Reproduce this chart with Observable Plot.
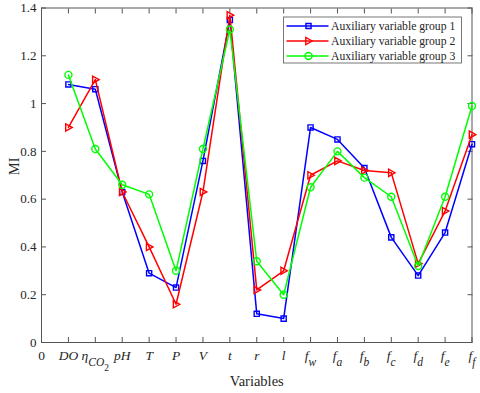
<!DOCTYPE html>
<html><head><meta charset="utf-8">
<script src="https://cdn.jsdelivr.net/npm/d3@7"></script>
<script src="https://cdn.jsdelivr.net/npm/@observablehq/plot@0.6"></script>
<style>
body{margin:0;background:#fff}
svg, svg text{font-family:"Liberation Serif","Times New Roman",serif !important}
</style>
</head><body><div id="chart"></div>
<script>
// ---- data ----
const variables = ["DO","ηCO2","pH","T","P","V","t","r","l","fw","fa","fb","fc","fd","fe","ff"];
const group1 = [1.08,1.06,0.63,0.29,0.23,0.76,1.35,0.12,0.10,0.90,0.85,0.73,0.44,0.28,0.46,0.83];
const group2 = [0.90,1.10,0.63,0.40,0.16,0.63,1.37,0.22,0.30,0.70,0.76,0.72,0.71,0.33,0.55,0.87];
const group3 = [1.12,0.81,0.66,0.62,0.30,0.81,1.31,0.34,0.20,0.65,0.80,0.69,0.61,0.32,0.61,0.99];
const seriesNames = ["Auxiliary variable group 1","Auxiliary variable group 2","Auxiliary variable group 3"];
const seriesColors = ["#0000ff","#ff0000","#00ff00"];
const yTicks = [0,0.2,0.4,0.6,0.8,1,1.2,1.4];
const xTicks = d3.range(0,17);
// tick label parts: [text, style] style: n normal, i italic, s subscript, si italic subscript, ss sub-subscript
const xTickLabels = [
  [["0","n"]],
  [["DO","i"]],
  [["η","i"],["CO","si"],["2","ss"]],
  [["pH","i"]],
  [["T","i"]],
  [["P","i"]],
  [["V","i"]],
  [["t","i"]],
  [["r","i"]],
  [["l","i"]],
  [["f","i"],["w","si"]],
  [["f","i"],["a","si"]],
  [["f","i"],["b","si"]],
  [["f","i"],["c","si"]],
  [["f","i"],["d","si"]],
  [["f","i"],["e","si"]],
  [["f","i"],["f","si"]]
];

// ---- table ----
const groups = [group1, group2, group3];
const table = [];
groups.forEach((g, k) => g.forEach((v, i) => table.push({x: i + 1, v, name: seriesNames[k], variable: variables[i]})));

const triRight = {
  draw(ctx, size) {
    const r = Math.sqrt(size / Math.PI);
    ctx.moveTo(r * 1.05, 0);
    ctx.lineTo(-r * 0.75, -r * 1.0);
    ctx.lineTo(-r * 0.75, r * 1.0);
    ctx.closePath();
  }
};
const symbols = ["square", triRight, "circle"];
const radii = [2.9, 3.6, 3.5];

const ink = "#262626";
const frameInk = "#555555";
const fmtY = d => String(+d.toFixed(1));

const marks = [];
// axes: labels
marks.push(Plot.axisY({ticks: yTicks, tickSize: 0, tickPadding: 5, tickFormat: fmtY, label: null, fontSize: 13, fill: ink}));
marks.push(Plot.axisX({ticks: xTicks, tickSize: 0, tickPadding: 8, tickFormat: i => String(i), label: null, fontSize: 13.5, fill: ink}));
// inward ticks on all four sides
marks.push(Plot.axisY({anchor: "left", ticks: yTicks, tickSize: -5, fill: "none", label: null, stroke: frameInk}));
marks.push(Plot.axisY({anchor: "right", ticks: yTicks, tickSize: -5, fill: "none", label: null, stroke: frameInk}));
marks.push(Plot.axisX({anchor: "bottom", ticks: xTicks, tickSize: -5, fill: "none", label: null, stroke: frameInk}));
marks.push(Plot.axisX({anchor: "top", ticks: xTicks, tickSize: -5, fill: "none", label: null, stroke: frameInk}));
marks.push(Plot.frame({stroke: frameInk, strokeWidth: 1}));
// series
seriesNames.forEach((name, k) => {
  const d = table.filter(r => r.name === name);
  marks.push(Plot.line(d, {x: "x", y: "v", stroke: seriesColors[k], strokeWidth: 1.5}));
  marks.push(Plot.dot(d, {x: "x", y: "v", stroke: seriesColors[k], symbol: () => symbols[k], r: radii[k], fill: "none", strokeWidth: 1.4}));
});
// axis titles
marks.push(Plot.text(["Variables"], {text: d => d, frameAnchor: "bottom", dy: 43, fontSize: 14.5, fill: ink}));
marks.push(Plot.text(["MI"], {text: d => d, frameAnchor: "left", dx: -27, rotate: -90, fontSize: 14.5, fill: ink}));

const svgEl = Plot.plot({
  width: 480, height: 393,
  marginLeft: 41, marginRight: 8.5, marginTop: 7.5, marginBottom: 51,
  x: {type: "linear", domain: [0, 16]},
  y: {domain: [0, 1.4]},
  symbol: {type: "identity"},
  style: {background: "#fff"},
  marks
});
document.getElementById("chart").appendChild(svgEl);

// rich x tick labels (italics and subscripts)
const svg = d3.select(svgEl);
svg.selectAll('g[aria-label="x-axis tick label"] text').each(function() {
  const t = d3.select(this);
  const idx = +t.text();
  const parts = xTickLabels[idx];
  t.text(null);
  let level = 0;
  parts.forEach(([s, st]) => {
    const ts = t.append("tspan").text(s);
    let target = 0;
    if (st === "s" || st === "si") target = 6;
    if (st === "ss") target = 11;
    if (target !== level) { ts.attr("dy", target - level); level = target; }
    if (st === "i" || st === "si") ts.attr("font-style", "italic");
    if (st === "s" || st === "si") ts.attr("font-size", 11.5);
    if (st === "ss") ts.attr("font-size", 9.5);
  });
});

// legend
const lg = svg.append("g").attr("font-size", 11.7).attr("fill", ink).attr("text-anchor", "start");
const lx = 283.5, ly = 17, lw = 178, lh = 46;
lg.append("rect").attr("x", lx).attr("y", ly).attr("width", lw).attr("height", lh)
  .attr("fill", "#fff").attr("stroke", frameInk).attr("stroke-width", 0.8);
seriesNames.forEach((name, k) => {
  const yy = ly + 9 + k * 15;
  lg.append("line").attr("x1", lx + 3).attr("x2", lx + 45).attr("y1", yy).attr("y2", yy)
    .attr("stroke", seriesColors[k]).attr("stroke-width", 1.5);
  const sym = symbols[k] === "square" ? d3.symbolSquare : symbols[k] === "circle" ? d3.symbolCircle : symbols[k];
  lg.append("path").attr("transform", `translate(${lx + 25},${yy})`)
    .attr("d", d3.symbol(sym, radii[k] * radii[k] * Math.PI)())
    .attr("fill", "none").attr("stroke", seriesColors[k]).attr("stroke-width", 1.4);
  lg.append("text").attr("x", lx + 47.5).attr("y", yy).attr("dy", "0.33em").attr("text-anchor", "start").text(name);
});
</script>
</body></html>
